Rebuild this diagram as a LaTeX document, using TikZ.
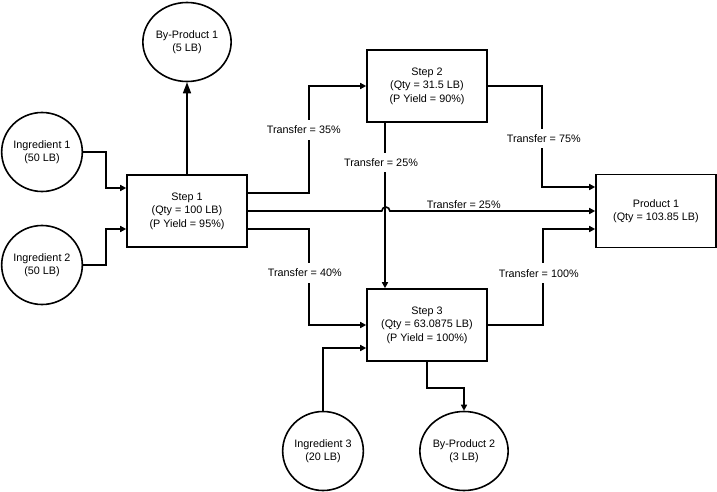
\documentclass[tikz,border=0pt]{standalone}
\usepackage{fontspec}
\setmainfont{Liberation Sans}
\usetikzlibrary{arrows.meta,shapes.geometric}

\begin{document}
\begin{tikzpicture}[x=1pt, y=-1pt,
    font=\fontsize{10.8}{13.5}\selectfont,
    stepbox/.style={draw, line width=1.6pt, minimum width=120pt, minimum height=72pt, align=center, inner sep=0pt},
    blob/.style={draw, ellipse, line width=1.6pt, minimum width=78pt, minimum height=79pt, align=center, inner sep=0pt},
    flow/.style={line width=1.6pt, -{Triangle[length=6pt,width=6pt]}},
    lbl/.style={fill=white, inner xsep=2pt, inner ysep=6pt}]
    \useasboundingbox (0,0) rectangle (717,492);
    \node[stepbox] (s1) at (187,211) {Step 1\\(Qty = 100 LB)\\(P Yield = 95\%)};
    \node[stepbox] (s2) at (427,86) {Step 2\\(Qty = 31.5 LB)\\(P Yield = 90\%)};
    \node[stepbox] (s3) at (427,325) {Step 3\\(Qty = 63.0875 LB)\\(P Yield = 100\%)};
    \node[stepbox, minimum height=73pt] (p1) at (656,211) {Product 1\\(Qty = 103.85 LB)};
    \node[blob] (i1) at (42,152) {Ingredient 1\\(50 LB)};
    \node[blob] (i2) at (42,265) {Ingredient 2\\(50 LB)};
    \node[blob] (i3) at (323,451) {Ingredient 3\\(20 LB)};
    \node[blob] (b1) at (187,42) {By-Product 1\\(5 LB)};
    \node[blob] (b2) at (464,451) {By-Product 2\\(3 LB)};
    \draw[flow] (i1.east) -- ++(23,0) |- ([yshift=23pt]s1.west);
    \draw[flow] (i2.east) -- ++(23,0) |- ([yshift=-18pt]s1.west);
    \draw[flow, -{Triangle[length=11pt,width=8pt]}] (s1.north) -- (b1.south);
    \draw[flow] ([yshift=18pt]s1.east) -- ++(61,0) |- node[lbl, pos=0.295, xshift=-5pt] (t1) {Transfer = 35\%} (s2.west);
    \draw[flow] (s1.east) -- ++(134,0) arc[start angle=180, end angle=0, radius=4pt] -- node[above, pos=0.36, inner sep=1.5pt] (t3) {Transfer = 25\%} (p1.west);
    \draw[flow] ([yshift=-18pt]s1.east) -- ++(61,0) |- node[lbl, pos=0.229, xshift=-4pt] (t4) {Transfer = 40\%} (s3.west);
    \draw[flow] ([xshift=-42pt]s2.south) -- node[lbl, pos=0.24, xshift=-4pt] (t2) {Transfer = 25\%} ([xshift=-42pt]s3.north);
    \draw[flow] (s2.east) -- ++(54,0) |- node[lbl, pos=0.26, xshift=2pt] (t5) {Transfer = 75\%} ([yshift=24pt]p1.west);
    \draw[flow] (s3.east) -- ++(55,0) |- node[lbl, pos=0.27, xshift=-4pt] (t6) {Transfer = 100\%} ([yshift=-18pt]p1.west);
    \draw[flow] (i3.north) |- ([yshift=-23pt]s3.west);
    \draw[flow] (s3.south) -- ++(0,26) -| (b2.north);
\end{tikzpicture}
\end{document}
